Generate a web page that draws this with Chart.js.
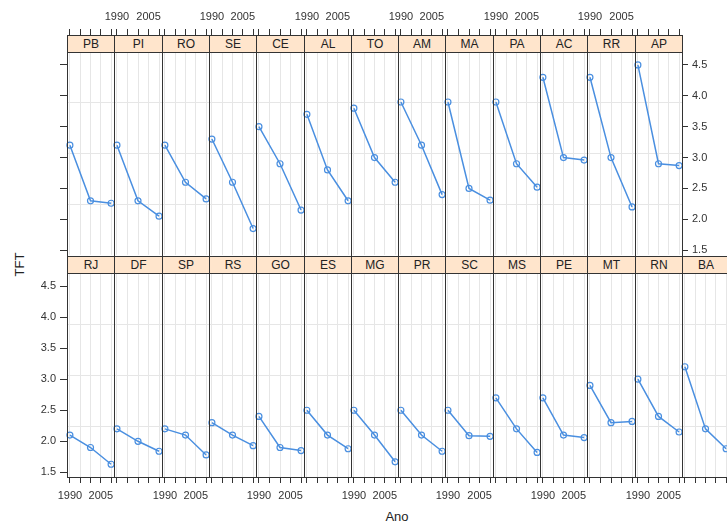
<!DOCTYPE html>
<html lang="pt">
<head>
<meta charset="UTF-8">
<title>TFT por UF</title>
<script src="https://cdn.jsdelivr.net/npm/chart.js"></script>
<style>
  body { margin: 0; background: #fff; font-family: "Liberation Sans", Arial, sans-serif; }
  #fig { position: relative; width: 727px; height: 527px; overflow: hidden; }
  .painel { position: absolute; }
  .faixa { position: absolute; box-sizing: border-box; height: 18px; background: #ffe5cc; border: 1px solid #333;
           text-align: center; font-size: 12px; line-height: 16px; color: #222; }
  .borda { position: absolute; box-sizing: border-box; border: 1px solid #333; pointer-events: none; }
  .rotulo { position: absolute; font-size: 13px; color: #222; }
</style>
</head>
<body>
<div id="fig">
  <div class="rotulo" style="left:4px;top:257px;width:30px;text-align:center;transform:rotate(-90deg);">TFT</div>
  <div class="rotulo" style="left:372px;top:509px;width:50px;text-align:center;">Ano</div>
</div>

<script>
// dados (linha de cima e depois linha de baixo)
const anos = [1990, 2000, 2010];
const estados = ['PB', 'PI', 'RO', 'SE', 'CE', 'AL', 'TO', 'AM', 'MA', 'PA', 'AC', 'RR', 'AP',
                 'RJ', 'DF', 'SP', 'RS', 'GO', 'ES', 'MG', 'PR', 'SC', 'MS', 'PE', 'MT', 'RN', 'BA'];
const tft1990 = [3.2, 3.2, 3.2, 3.3, 3.5, 3.7, 3.8, 3.9, 3.9, 3.9, 4.3, 4.3, 4.5,
                 2.1, 2.2, 2.2, 2.3, 2.4, 2.5, 2.5, 2.5, 2.5, 2.7, 2.7, 2.9, 3.0, 3.2];
const tft2000 = [2.3, 2.3, 2.6, 2.6, 2.9, 2.8, 3.0, 3.2, 2.5, 2.9, 3.0, 3.0, 2.9,
                 1.9, 2.0, 2.1, 2.1, 1.9, 2.1, 2.1, 2.1, 2.09, 2.2, 2.1, 2.3, 2.4, 2.2];
const tft2010 = [2.26, 2.05, 2.33, 1.85, 2.15, 2.3, 2.6, 2.4, 2.31, 2.52, 2.96, 2.2, 2.87,
                 1.63, 1.84, 1.78, 1.93, 1.85, 1.88, 1.67, 1.84, 2.08, 1.82, 2.06, 2.32, 2.15, 1.88];
const xTicks = [1990, 1995, 2000, 2005, 2010];
const xRotulos = [1990, 2005];
const yTicks = [1.5, 2.0, 2.5, 3.0, 3.5, 4.0, 4.5];

const nTopo = 13;
const xMin = 1988.6, xMax = 2011.4, yMin = 1.425, yMax = 4.71;
const x0 = 67, larg = 47.3, alturaPainel = 204, alturaFaixa = 17;
const topoFaixa = [35, 256];
const topoPainel = [52, 273];
const yGrade = [1, 2, 3].map(k => yMin + k * (yMax - yMin) / 4);
const cor = '#4a8fe0';
const fig = document.getElementById('fig');

Chart.defaults.font.family = '"Liberation Sans", Arial, sans-serif';

// fixa o tamanho do eixo para o painel ficar no lugar certo
function tamanho(t) {
    return s => {
        if (s.isHorizontal()) s.height = t; else s.width = t;
        s.paddingLeft = s.paddingRight = s.paddingTop = s.paddingBottom = 0;
    };
}

estados.forEach((uf, p) => {
    const linha = p < nTopo ? 0 : 1;
    const col = linha === 0 ? p : p - nTopo;
    const esq = Math.round(x0 + col * larg);
    const dir = Math.round(x0 + (col + 1) * larg);
    const w = dir - esq;
    const yTop = topoPainel[linha];

    const eixoEsq = col === 0;
    const eixoDir = linha === 0 && col === nTopo - 1;
    const rotY = (linha === 1 && col === 0) || eixoDir;
    const rotX = linha === 0 ? col % 2 === 1 : col % 2 === 0;

    const mL = eixoEsq ? 50 : 20, mR = eixoDir ? 50 : 20;
    const mT = linha === 0 ? 52 : 10, mB = linha === 0 ? 4 : 45;

    const box = document.createElement('div');
    box.className = 'painel';
    box.style.left = (esq - mL) + 'px';
    box.style.top = (yTop - mT) + 'px';
    box.style.width = (w + mL + mR) + 'px';
    box.style.height = (alturaPainel + mT + mB) + 'px';
    const cv = document.createElement('canvas');
    box.appendChild(cv);
    fig.appendChild(box);

    const escalas = {
        x: {
            type: 'linear', position: linha === 0 ? 'top' : 'bottom', min: xMin, max: xMax, weight: 1,
            afterBuildTicks: s => { s.ticks = xTicks.map(v => ({ value: v })); },
            afterFit: tamanho(linha === 0 ? mT - alturaFaixa : mB),
            border: { display: false },
            grid: { color: '#e6e6e6', tickColor: '#333', tickLength: 6 },
            ticks: {
                autoSkip: false, maxRotation: 0, minRotation: 0, padding: linha === 0 ? 5 : 6,
                color: '#333', font: { size: 11 },
                callback: v => (rotX && xRotulos.includes(v)) ? String(v) : ''
            }
        },
        y: {
            type: 'linear', position: eixoDir ? 'right' : 'left', display: eixoEsq || eixoDir,
            min: yMin, max: yMax,
            afterBuildTicks: s => { s.ticks = yTicks.map(v => ({ value: v })); },
            afterFit: tamanho(eixoEsq ? mL : (eixoDir ? mR : 0)),
            border: { display: false },
            grid: { drawOnChartArea: false, tickColor: '#333', tickLength: eixoDir ? 6 : 7 },
            ticks: { padding: 4, color: '#333', font: { size: 11 },
                     callback: v => rotY ? v.toFixed(1) : '' }
        },
        yg: {
            type: 'linear', position: 'left', min: yMin, max: yMax,
            afterBuildTicks: s => { s.ticks = yGrade.map(v => ({ value: v })); },
            afterFit: tamanho(0),
            border: { display: false },
            grid: { color: '#e6e6e6', drawTicks: false },
            ticks: { display: false }
        }
    };
    if (linha === 0) {
        // espaço da faixa entre o painel e o eixo de cima
        escalas.xs = {
            type: 'linear', position: 'top', min: xMin, max: xMax, weight: 0,
            afterFit: tamanho(alturaFaixa),
            border: { display: false },
            grid: { display: false },
            ticks: { display: false }
        };
    }

    new Chart(cv, {
        type: 'line',
        data: {
            datasets: [{
                data: anos.map((a, k) => ({ x: a, y: [tft1990, tft2000, tft2010][k][p] })),
                borderColor: cor, backgroundColor: 'transparent', borderWidth: 1.5,
                pointRadius: 3, pointBorderWidth: 1.2, pointBorderColor: cor,
                pointBackgroundColor: 'rgba(0,0,0,0)', tension: 0, clip: 5
            }]
        },
        options: {
            responsive: true, maintainAspectRatio: false, animation: false, events: [],
            layout: {
                padding: {
                    left: eixoEsq ? 0 : mL, right: eixoDir ? 0 : mR,
                    top: linha === 0 ? 0 : mT, bottom: linha === 0 ? mB : 0
                }
            },
            plugins: { legend: { display: false }, tooltip: { enabled: false } },
            scales: escalas
        }
    });

    const faixa = document.createElement('div');
    faixa.className = 'faixa';
    faixa.style.left = esq + 'px';
    faixa.style.top = topoFaixa[linha] + 'px';
    faixa.style.width = (w + 1) + 'px';
    faixa.textContent = uf;
    fig.appendChild(faixa);

    const borda = document.createElement('div');
    borda.className = 'borda';
    borda.style.left = esq + 'px';
    borda.style.top = yTop + 'px';
    borda.style.width = (w + 1) + 'px';
    borda.style.height = (alturaPainel + 1) + 'px';
    fig.appendChild(borda);
});
</script>
</body>
</html>
